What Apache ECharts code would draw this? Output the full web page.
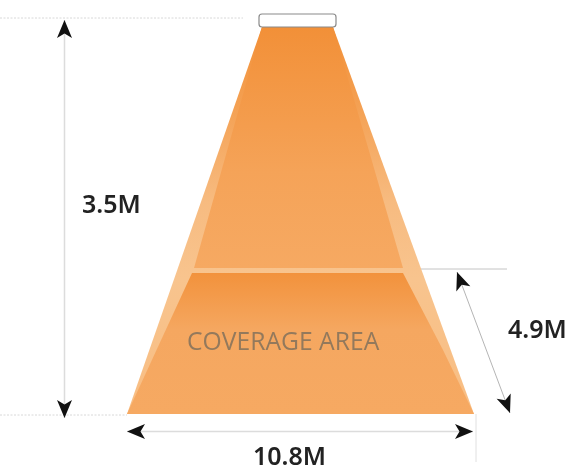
<!DOCTYPE html>
<html>
<head>
<meta charset="utf-8">
<style>html,body{margin:0;padding:0;background:#fff}#c{width:566px;height:468px}</style>
<script src="https://cdn.jsdelivr.net/npm/echarts@6/dist/echarts.min.js"></script>
</head>
<body>
<div id="c"></div>
<script>
// Diagram geometry (x, y in axis units)
const outerBeam = [[262,27],[333,27],[474,414],[127,414]];
const upperBeam = [[262,27],[333,27],[403,268],[194,268]];
const lowerBeam = [[192,273],[403,273],[443,350],[474,414],[127,414]];
const fixture = [[259,14],[336,27]];
const guideLines = [
  [[0,18],[243,18]],
  [[0,415],[127,415]],
  [[476,414],[476,462]],
  [[421,269],[507,269]]
];
const arrows = [
  [[64.5,20],[64.5,418]],
  [[127,431.5],[473,431.5]],
  [[457,272],[510,413]]
];
const labelTexts = ['3.5M','4.9M','10.8M','COVERAGE AREA'];
const labelAnchors = [[82,206],[508,331],[253,458],[187,343]];

function grad(stops){
  return new echarts.graphic.LinearGradient(0,0,0,1,stops.map(s=>({offset:s[0],color:s[1]})));
}
function poly(api,pts,fill){
  return {type:'polygon',shape:{points:pts.map(p=>api.coord(p))},style:{fill:fill}};
}
function renderDiagram(params,api){
  if(params.dataIndex!==0) return null;
  const kids=[];
  kids.push(poly(api,outerBeam,grad([[0,'#f29038'],[0.2,'#f4a052'],[0.45,'#f7bb80'],[0.65,'#f8c48e'],[1,'#f8bd82']])));
  kids.push(poly(api,upperBeam,grad([[0,'#f29038'],[0.6,'#f5a358'],[1,'#f6a962']])));
  kids.push(poly(api,lowerBeam,grad([[0,'#f2923c'],[0.4,'#f5a760'],[1,'#f6a962']])));
  const a=api.coord(fixture[0]), b=api.coord(fixture[1]);
  kids.push({type:'rect',shape:{x:a[0],y:a[1],width:b[0]-a[0],height:b[1]-a[1],r:3},
    style:{fill:'#fff',stroke:'#8a8a8a',lineWidth:1.2}});
  guideLines.forEach((l,i)=>{
    const p=api.coord(l[0]),q=api.coord(l[1]);
    kids.push({type:'line',shape:{x1:p[0],y1:p[1],x2:q[0],y2:q[1]},
      style:{stroke:i<2?'#d8d8d8':(i===2?'#e0e0e0':'#c4c4c4'),lineWidth:1,lineDash:i<2?[2,1.5]:null}});
  });
  arrows.forEach((l,i)=>{
    const p=api.coord(l[0]),q=api.coord(l[1]);
    kids.push({type:'line',shape:{x1:p[0],y1:p[1],x2:q[0],y2:q[1]},
      style:{stroke:i===2?'#b5b5b5':'#dcdcdc',lineWidth:i===2?1:1.5}});
    [[p,q],[q,p]].forEach(pair=>{
      const t=pair[0],o=pair[1];
      const dx=o[0]-t[0],dy=o[1]-t[1],n=Math.hypot(dx,dy),ux=dx/n,uy=dy/n,vx=-uy,vy=ux;
      const L=18,W=7.5,N=13.5;
      kids.push({type:'polygon',shape:{points:[
        t,
        [t[0]+ux*L+vx*W,t[1]+uy*L+vy*W],
        [t[0]+ux*N,t[1]+uy*N],
        [t[0]+ux*L-vx*W,t[1]+uy*L-vy*W]
      ]},style:{fill:'#111'}});
    });
  });
  labelTexts.forEach((s,i)=>{
    const c=api.coord(labelAnchors[i]);
    const cov=i===3;
    kids.push({type:'text',x:c[0],y:c[1],style:{
      text:s,fill:cov?'#93795c':'#222',
      font:cov?'400 24.7px "Open Sans"':'600 25px "Noto Sans"',
      align:'left',verticalAlign:'middle'}});
  });
  return {type:'group',children:kids};
}
const chart=echarts.init(document.getElementById('c'),null,{renderer:'canvas'});
chart.setOption({
  animation:false,
  backgroundColor:'#fff',
  grid:{left:0,right:0,top:0,bottom:0,containLabel:false},
  xAxis:{type:'value',min:0,max:566,show:false},
  yAxis:{type:'value',min:0,max:468,inverse:true,show:false},
  series:[{type:'custom',coordinateSystem:'cartesian2d',clip:false,silent:true,
    encode:{x:0,y:1},data:[outerBeam[0]],renderItem:renderDiagram}]
});
</script>
</body>
</html>
